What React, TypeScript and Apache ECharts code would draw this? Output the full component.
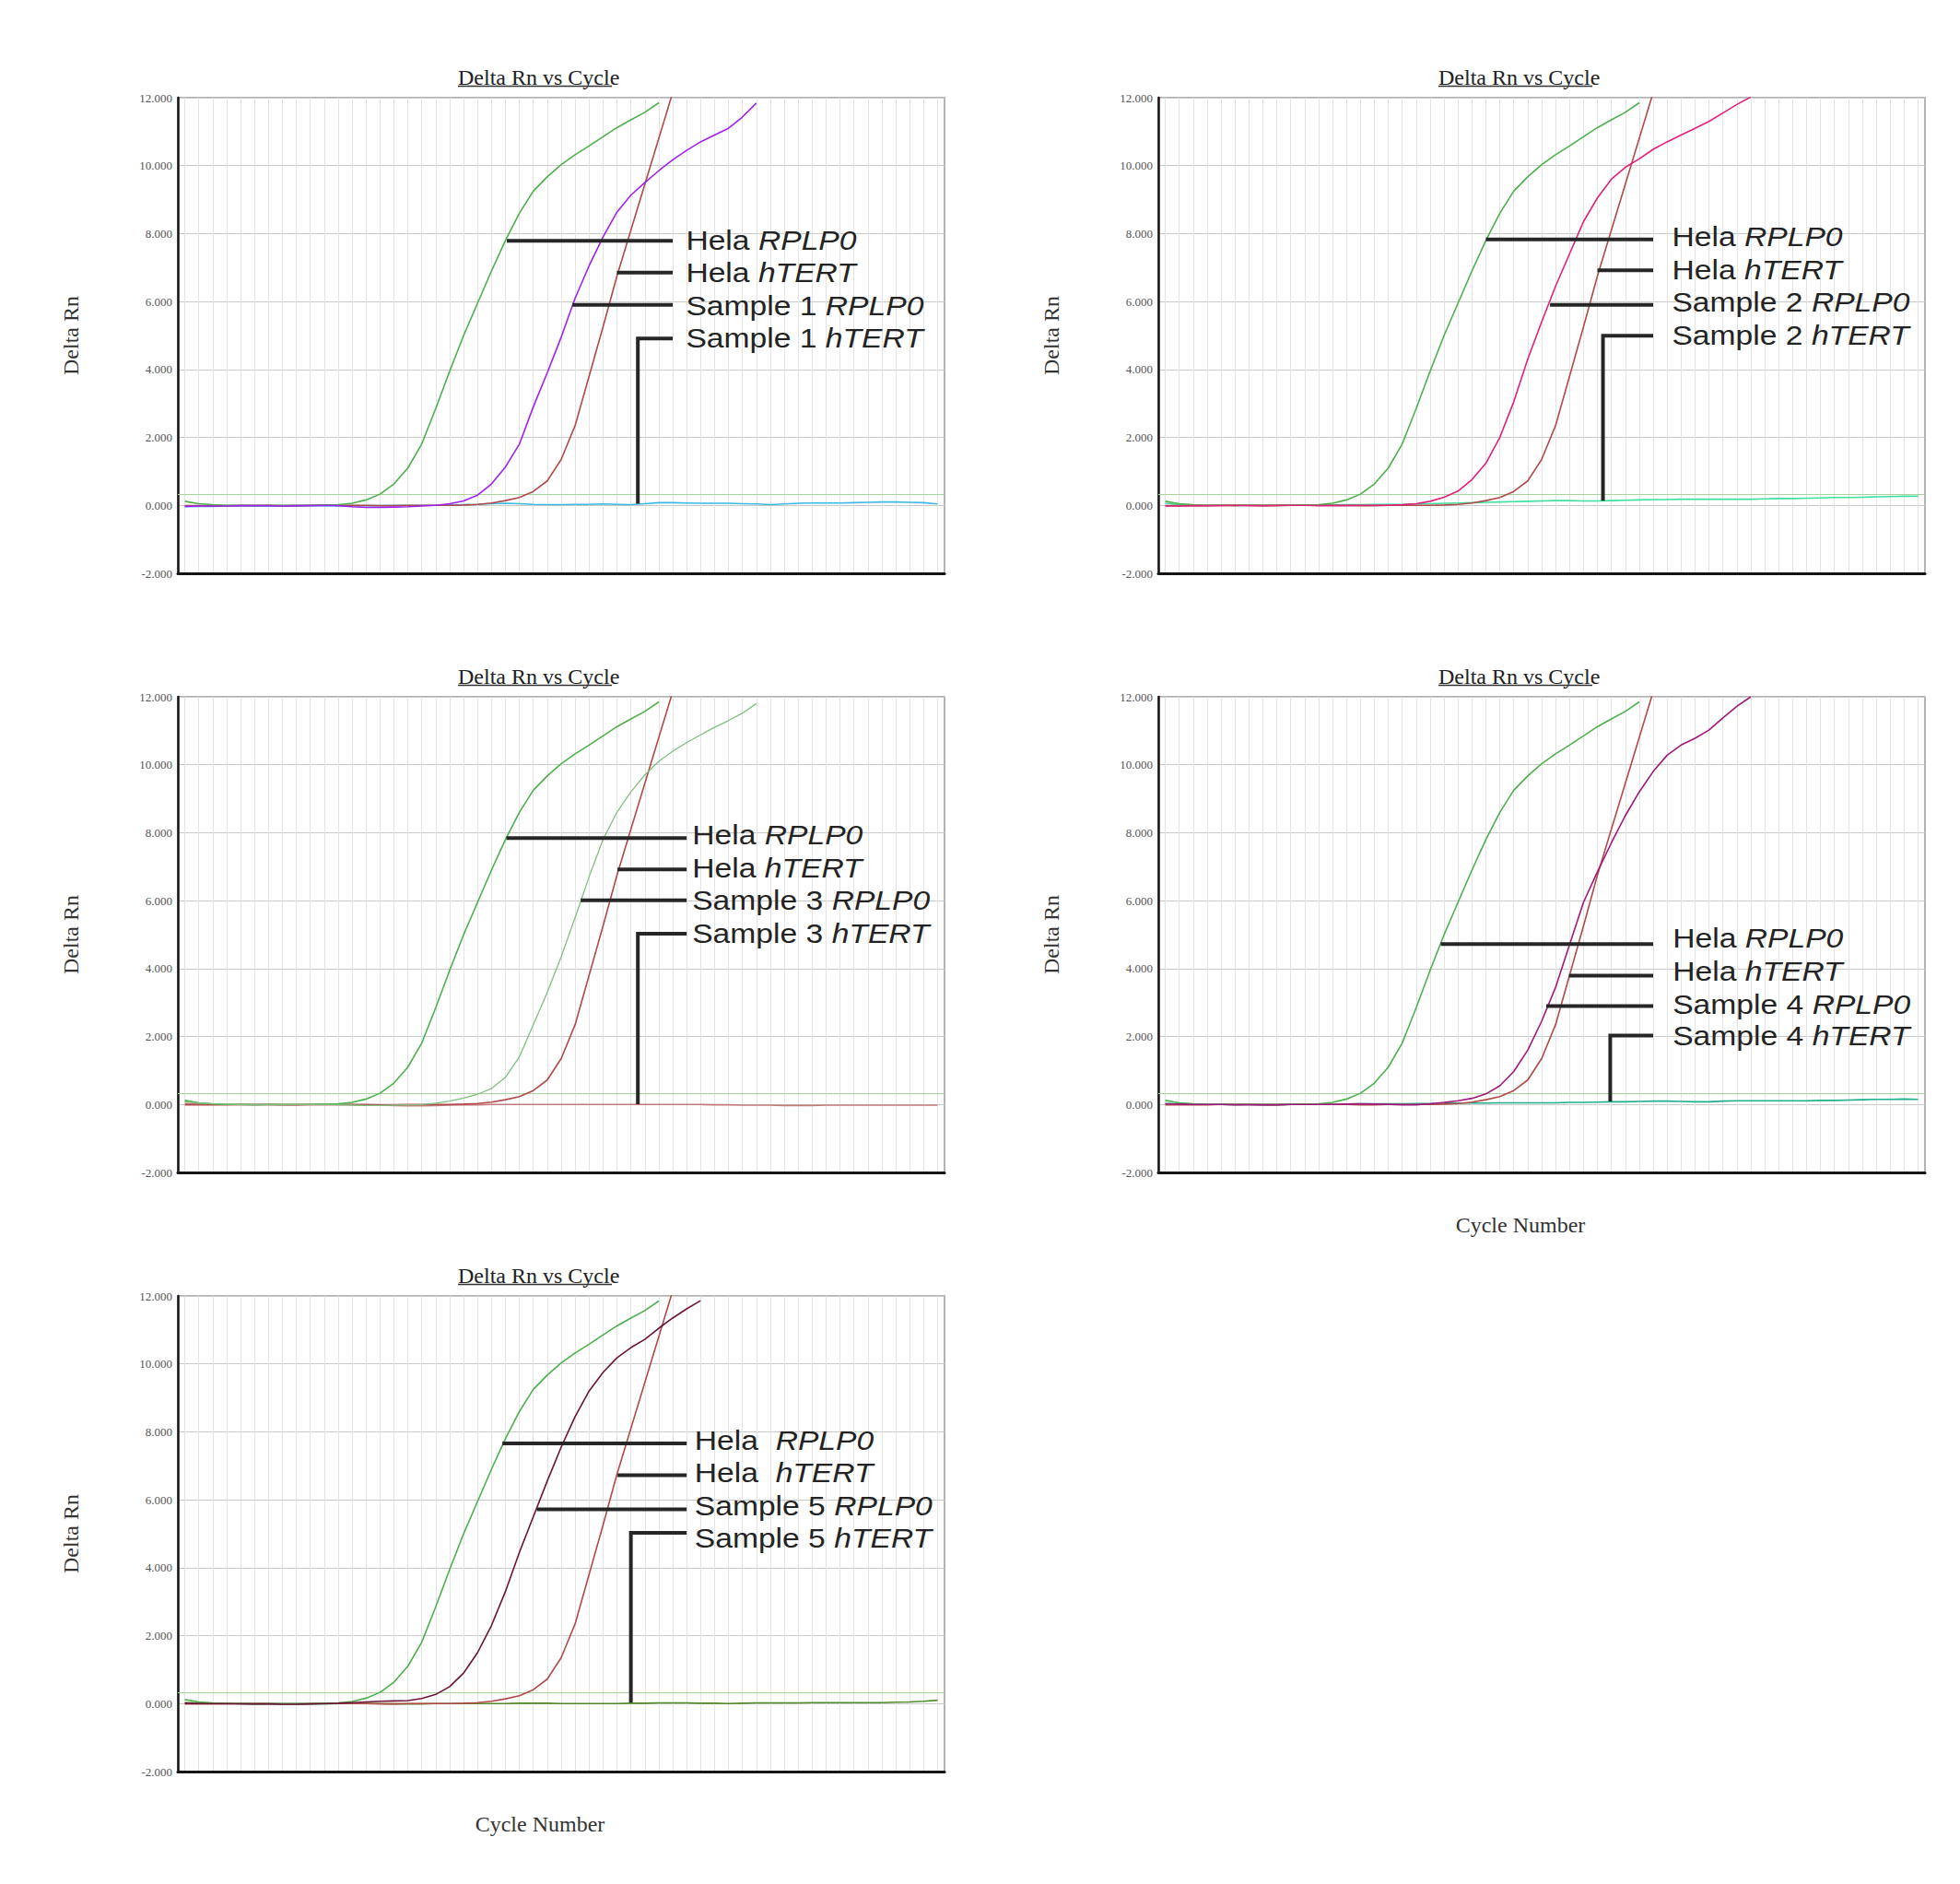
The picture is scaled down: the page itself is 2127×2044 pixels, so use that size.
import React, { useEffect, useRef } from 'react';
import * as echarts from 'echarts';

// ---------- data (Delta Rn per cycle, starting at cycle 1) ----------
const HELA_RPLP0 = [0.12, 0.05, 0.02, 0.0, 0.0, -0.01, 0.0, 0.0, 0.0, 0.0, 0.01, 0.02, 0.06, 0.16, 0.33, 0.63, 1.1, 1.81, 2.85, 3.95, 5.0, 5.95, 6.9, 7.8, 8.6, 9.25, 9.67, 10.03, 10.32, 10.58, 10.85, 11.12, 11.35, 11.57, 11.85];
const HELA_HTERT = [-0.01, -0.01, -0.01, -0.01, 0.0, 0.0, 0.0, -0.01, -0.01, 0.0, 0.0, 0.0, 0.0, 0.0, -0.01, -0.01, 0.0, 0.0, 0.0, 0.0, 0.01, 0.03, 0.07, 0.14, 0.23, 0.41, 0.72, 1.35, 2.35, 3.8, 5.25, 6.75, 8.1, 9.45, 10.8, 12.15];

const S1_RPLP0 = [-0.03, -0.02, -0.02, -0.02, -0.01, -0.01, -0.01, -0.02, -0.01, -0.01, 0.0, -0.01, -0.04, -0.06, -0.06, -0.05, -0.04, -0.02, 0.0, 0.05, 0.13, 0.3, 0.63, 1.13, 1.8, 2.9, 3.9, 4.95, 6.1, 7.05, 7.9, 8.63, 9.13, 9.5, 9.85, 10.17, 10.45, 10.7, 10.9, 11.1, 11.43, 11.84];
const S1_HTERT = [-0.04, -0.03, -0.03, -0.02, -0.02, -0.02, -0.02, -0.02, -0.02, -0.01, -0.01, -0.01, -0.01, -0.01, -0.01, 0.0, 0.0, 0.0, 0.0, 0.01, 0.02, 0.03, 0.05, 0.06, 0.05, 0.03, 0.02, 0.02, 0.03, 0.03, 0.04, 0.03, 0.02, 0.05, 0.08, 0.08, 0.07, 0.06, 0.06, 0.06, 0.05, 0.04, 0.02, 0.04, 0.06, 0.07, 0.07, 0.07, 0.08, 0.09, 0.1, 0.1, 0.09, 0.08, 0.04];

const S2_RPLP0 = [-0.02, -0.02, -0.01, -0.01, -0.01, 0.0, -0.01, -0.01, 0.0, 0.0, 0.0, -0.01, -0.01, -0.01, 0.0, 0.0, 0.0, 0.02, 0.05, 0.12, 0.24, 0.42, 0.76, 1.24, 2.0, 3.05, 4.3, 5.4, 6.45, 7.4, 8.35, 9.05, 9.6, 9.95, 10.2, 10.48, 10.7, 10.9, 11.1, 11.3, 11.55, 11.8, 12.02];
const S2_HTERT = [0.06, 0.02, 0.01, 0.0, 0.0, 0.0, 0.0, 0.0, 0.0, 0.01, 0.01, 0.01, 0.01, 0.02, 0.02, 0.03, 0.03, 0.03, 0.04, 0.05, 0.06, 0.07, 0.08, 0.09, 0.1, 0.11, 0.12, 0.13, 0.14, 0.14, 0.13, 0.13, 0.14, 0.15, 0.16, 0.17, 0.17, 0.18, 0.18, 0.18, 0.18, 0.18, 0.18, 0.19, 0.2, 0.2, 0.21, 0.22, 0.23, 0.23, 0.24, 0.25, 0.26, 0.27, 0.27];

const S3_RPLP0 = [0.08, 0.04, 0.02, 0.01, 0.0, 0.0, -0.01, -0.01, 0.0, 0.0, 0.0, -0.01, -0.02, -0.03, -0.03, -0.02, -0.01, 0.0, 0.04, 0.1, 0.19, 0.3, 0.47, 0.8, 1.4, 2.35, 3.3, 4.35, 5.5, 6.7, 7.8, 8.6, 9.2, 9.7, 10.1, 10.4, 10.65, 10.88, 11.1, 11.3, 11.52, 11.8];
const S3_HTERT = [0.03, 0.01, 0.0, 0.0, -0.01, -0.01, -0.01, -0.01, -0.01, -0.01, -0.01, -0.01, -0.01, -0.02, -0.02, -0.03, -0.04, -0.04, -0.03, -0.02, -0.01, -0.01, 0.0, 0.0, 0.0, 0.0, 0.0, 0.0, 0.0, 0.0, 0.0, 0.0, 0.0, 0.0, 0.0, 0.0, 0.0, 0.0, -0.01, -0.01, -0.02, -0.02, -0.02, -0.03, -0.03, -0.03, -0.02, -0.02, -0.02, -0.02, -0.02, -0.02, -0.02, -0.02, -0.02];

const S4_RPLP0 = [0.02, 0.01, 0.0, 0.0, 0.0, -0.01, -0.01, -0.01, -0.01, 0.0, 0.0, 0.0, 0.0, 0.01, 0.02, 0.01, 0.0, -0.01, -0.01, 0.02, 0.06, 0.11, 0.18, 0.31, 0.55, 0.97, 1.6, 2.45, 3.45, 4.7, 5.95, 6.85, 7.7, 8.5, 9.2, 9.8, 10.28, 10.58, 10.78, 11.02, 11.38, 11.72, 12.0];
const S4_HTERT = [0.03, 0.02, 0.01, 0.0, 0.0, 0.0, 0.0, -0.01, -0.01, 0.0, 0.0, 0.0, 0.0, 0.01, 0.02, 0.02, 0.02, 0.02, 0.03, 0.03, 0.04, 0.04, 0.04, 0.04, 0.05, 0.05, 0.05, 0.05, 0.05, 0.06, 0.06, 0.07, 0.08, 0.08, 0.09, 0.1, 0.1, 0.09, 0.08, 0.08, 0.1, 0.11, 0.11, 0.11, 0.11, 0.11, 0.11, 0.12, 0.12, 0.13, 0.14, 0.15, 0.15, 0.16, 0.15];

const S5_RPLP0 = [0.01, 0.0, 0.0, 0.0, -0.01, -0.01, -0.01, -0.02, -0.02, -0.01, 0.0, 0.01, 0.03, 0.05, 0.07, 0.08, 0.09, 0.15, 0.27, 0.5, 0.9, 1.5, 2.3, 3.3, 4.45, 5.5, 6.55, 7.55, 8.45, 9.2, 9.75, 10.18, 10.48, 10.72, 11.05, 11.35, 11.62, 11.86];
const S5_HTERT = [0.03, 0.02, 0.01, 0.0, 0.0, -0.01, -0.01, -0.01, -0.01, -0.01, -0.01, 0.0, 0.0, 0.0, 0.0, -0.01, -0.01, -0.01, 0.0, 0.0, 0.0, 0.0, 0.0, 0.0, 0.01, 0.01, 0.01, 0.0, 0.0, 0.0, 0.0, 0.0, 0.01, 0.01, 0.02, 0.02, 0.02, 0.01, 0.01, 0.0, 0.01, 0.02, 0.02, 0.02, 0.02, 0.03, 0.03, 0.03, 0.03, 0.03, 0.03, 0.04, 0.05, 0.07, 0.1];

const THRESHOLD = 0.33;
const CYCLE_TICKS = Array.from({ length: 55 }, (_, i) => i + 1);
const SAMPLE_NAMES = ['Sample 1', 'Sample 2', 'Sample 3', 'Sample 4', 'Sample 5'];
const SAMPLE_RPLP0 = [S1_RPLP0, S2_RPLP0, S3_RPLP0, S4_RPLP0, S5_RPLP0];
const SAMPLE_HTERT = [S1_HTERT, S2_HTERT, S3_HTERT, S4_HTERT, S5_HTERT];

// ---------- annotation anchors (cycle, Delta Rn) ----------
// rows: Hela RPLP0, Hela hTERT, Sample RPLP0, Sample hTERT  -> [start cycle, level]
const ANN_LINES = [
  [[24.1, 7.79], [32.0, 6.85], [28.8, 5.9], [33.5, 4.91]],
  [[24.0, 7.83], [32.0, 6.92], [28.6, 5.9], [32.4, 4.99]],
  [[24.07, 7.84], [32.04, 6.92], [29.4, 6.01], [33.5, 5.03]],
  [[20.76, 4.72], [29.96, 3.79], [28.33, 2.9], [32.92, 2.03]],
  [[23.78, 7.66], [32.04, 6.72], [26.25, 5.72], [33.0, 5.03]],
];
const ANN_BASE = [0.05, 0.14, 0.01, 0.09, 0.03];
const ANN_END = [36.0, 36.0, 37.0, 36.0, 37.0];
const ANN_TEXT_X = [36.95, 37.35, 37.4, 37.4, 37.57];
const ANN_TEXT_Y = [
  [7.78, 6.83, 5.87, 4.9],
  [7.9, 6.93, 5.98, 5.0],
  [7.91, 6.95, 6.0, 5.02],
  [4.87, 3.92, 2.93, 2.0],
  [7.72, 6.77, 5.81, 4.86],
];

// ---------- styles / layout ----------
const COLORS_HELA = ['#4cb04c', '#b04a48'];
const COLORS_RPLP0 = ['#a020f0', '#e2207c', '#7fc07f', '#a0187a', '#6a1438'];
const COLORS_HTERT = ['#3cb9e2', '#3ee0a0', '#c47a7a', '#1fae8c', '#4f8a28'];
const GRID_POS = [[193, 106], [1257, 106], [193, 756], [1257, 756], [193, 1406]];
const GRID_W = 832;
const GRID_H = 516;
const SHOW_X_NAME = [false, false, false, true, true];

const pairs = (arr: number[]) => arr.map((v, i) => [i + 1, v]);

export default function App() {
  const ref = useRef<HTMLDivElement>(null);

  useEffect(() => {
    const chart = echarts.init(ref.current as HTMLDivElement, null, { renderer: 'svg' });
    const grid: any[] = [];
    const xAxis: any[] = [];
    const yAxis: any[] = [];
    const series: any[] = [];
    const title: any[] = [];

    for (let i = 0; i < 5; i++) {
      const [l, t] = GRID_POS[i];
      grid.push({ left: l, top: t, width: GRID_W, height: GRID_H, show: true, borderColor: '#9a9a9a', borderWidth: 1.5 });
      title.push({
        text: 'Delta Rn vs Cycle', left: l + 304, top: t - 34, padding: 0,
        textStyle: { fontFamily: 'Liberation Serif', fontSize: 24, fontWeight: 'normal', color: '#222' },
      });
      xAxis.push({
        type: 'value', gridIndex: i, min: 0.5, max: 55.5, z: 8,
        axisLine: { show: true, onZero: false, lineStyle: { color: '#151515', width: 3 } },
        axisTick: { show: false }, axisLabel: { show: false }, splitLine: { show: false },
        name: SHOW_X_NAME[i] ? 'Cycle Number' : '', nameLocation: 'middle', nameGap: 45,
        nameTextStyle: { fontFamily: 'Liberation Serif', fontSize: 24, color: '#333', padding: [0, 46, 0, 0] },
      });
      yAxis.push({
        type: 'value', gridIndex: i, min: -2, max: 12, interval: 2,
        axisLine: { show: true, onZero: false, lineStyle: { color: '#151515', width: 2.5 } },
        axisTick: { show: false },
        axisLabel: { formatter: (v: number) => v.toFixed(3), fontFamily: 'Liberation Serif', fontSize: 13, color: '#555', margin: 6 },
        splitLine: { show: true, lineStyle: { color: '#c9c9c9', width: 1.2 } },
        name: 'Delta Rn', nameLocation: 'middle', nameGap: 104,
        nameTextStyle: { fontFamily: 'Liberation Serif', fontSize: 24, color: '#333' },
      });

      const curve = (name: string, arr: number[], color: string, extra: any = {}) => ({
        type: 'line', name, xAxisIndex: i, yAxisIndex: i, data: pairs(arr), symbol: 'none',
        lineStyle: { color, width: 1.6 }, itemStyle: { color }, z: 2, silent: true, clip: true, ...extra,
      });

      series.push(curve('Sample hTERT', SAMPLE_HTERT[i], COLORS_HTERT[i]));
      series.push(curve('Hela hTERT', HELA_HTERT, COLORS_HELA[1]));
      series.push(curve('Hela RPLP0', HELA_RPLP0, COLORS_HELA[0], {
        markLine: {
          silent: true, z: 1, symbol: ['none', 'none'], label: { show: false },
          lineStyle: { color: '#e4e4e4', width: 1, type: 'solid' },
          emphasis: { disabled: true },
          data: [
            ...CYCLE_TICKS.map((c) => ({ xAxis: c })),
            { yAxis: THRESHOLD, lineStyle: { color: '#a9d4a0', width: 1.2, type: 'solid' } },
          ],
        },
      }));
      series.push(curve('Sample RPLP0', SAMPLE_RPLP0[i], COLORS_RPLP0[i], i === 2 ? { lineStyle: { color: COLORS_RPLP0[i], width: 1.3 } } : {}));

      // annotation leader lines
      const ann = ANN_LINES[i];
      const end = ANN_END[i];
      const leader = (data: number[][]) => ({
        type: 'line', xAxisIndex: i, yAxisIndex: i, data, symbol: 'none', silent: true, z: 5, clip: false,
        lineStyle: { color: '#262626', width: 4, cap: 'butt', join: 'miter' },
      });
      series.push(leader([[ann[0][0], ann[0][1]], [end, ann[0][1]]]));
      series.push(leader([[ann[1][0], ann[1][1]], [end, ann[1][1]]]));
      series.push(leader([[ann[2][0], ann[2][1]], [end, ann[2][1]]]));
      series.push(leader([[ann[3][0], ANN_BASE[i]], [ann[3][0], ann[3][1]], [end, ann[3][1]]]));
    }

    chart.setOption({ animation: false, backgroundColor: '#ffffff', title, grid, xAxis, yAxis, series });

    const graphic: any[] = [];
    const rich = {
      n: { fontFamily: 'Liberation Sans', fontSize: 29, fill: '#232323', color: '#232323' },
      i: { fontFamily: 'Liberation Sans', fontSize: 29, fontStyle: 'italic', fill: '#232323', color: '#232323' },
    };
    for (let i = 0; i < 5; i++) {
      const [l, t] = GRID_POS[i];
      graphic.push({
        type: 'line', silent: true, z: 50,
        shape: { x1: l + 304, y1: t - 12.5, x2: l + 471, y2: t - 12.5 },
        style: { stroke: '#333', lineWidth: 1.3 },
      });
      const helaSep = i === 4 ? 'Hela  ' : 'Hela ';
      const texts = [
        `{n|${helaSep}}{i|RPLP0}`,
        `{n|${helaSep}}{i|hTERT}`,
        `{n|${SAMPLE_NAMES[i]} }{i|RPLP0}`,
        `{n|${SAMPLE_NAMES[i]} }{i|hTERT}`,
      ];
      texts.forEach((txt, k) => {
        const [px, py] = chart.convertToPixel({ gridIndex: i }, [ANN_TEXT_X[i], ANN_TEXT_Y[i][k]]) as number[];
        graphic.push({
          type: 'text', x: px, y: py, scaleX: 1.16, silent: true, z: 60,
          style: {
            text: txt, rich, fontFamily: 'Liberation Sans', fontSize: 29, fill: '#232323',
            align: 'left', verticalAlign: 'middle', textAlign: 'left', textVerticalAlign: 'middle',
          },
        });
      });
    }
    chart.setOption({ graphic });

    return () => chart.dispose();
  }, []);

  return <div ref={ref} style={{ position: 'absolute', left: 0, top: 0, width: 2127, height: 2044 }} />;
}
